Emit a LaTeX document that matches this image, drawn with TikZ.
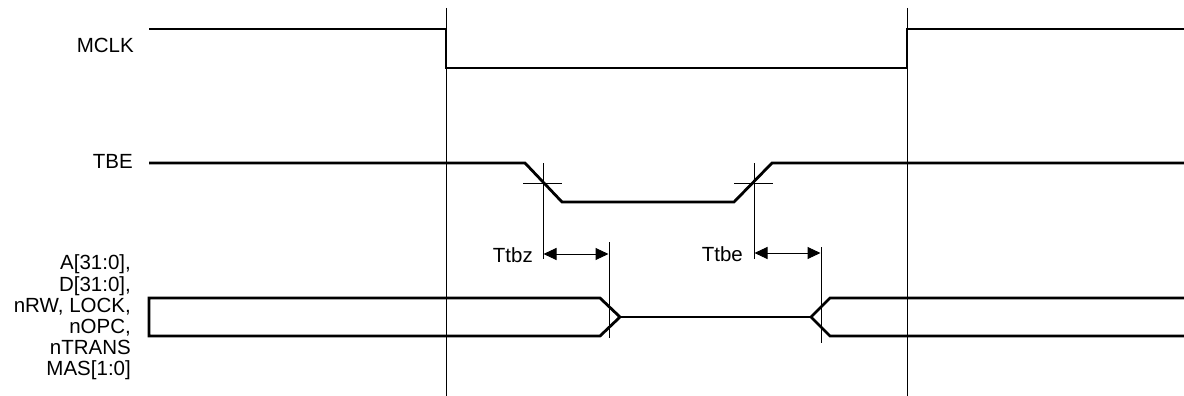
\documentclass[tikz,border=0pt]{standalone}
\usepackage{fontspec}
\setmainfont{Liberation Sans}
\usetikzlibrary{arrows.meta}
\begin{document}
\begin{tikzpicture}[x=1pt,y=-1pt,
  sig/.style={line width=2.8pt,line join=miter,line cap=butt},
  thin/.style={line width=1pt},
  lbl/.style={font=\fontsize{20.5}{21.2}\selectfont,inner sep=0pt},
  dim/.style={line width=1pt,{Triangle[length=13pt,width=12pt]}-{Triangle[length=13pt,width=12pt]},shorten <=0.5pt,shorten >=0.5pt}]
\useasboundingbox (0,0) rectangle (1184,396);
% reference verticals
\draw[thin] (446,8) -- (446,396);
\draw[thin] (907,8) -- (907,396);
% labels
\node[lbl,anchor=east] (mclk) at (134,45) {MCLK};
\node[lbl,anchor=east] (tbe) at (133,161) {TBE};
\node[lbl,anchor=east,align=right] (bus) at (131,317.5)
  {A[31:0],\\D[31:0],\\nRW, LOCK,\\nOPC,\\nTRANS\\MAS[1:0]};
% MCLK
\draw[sig] (149,29) -- (446,29) -- (446,68) -- (907,68) -- (907,29) -- (1184,29);
% TBE
\draw[sig] (149,163) -- (525,163) -- (562,202) -- (734,202) -- (772,163) -- (1184,163);
% crosshairs
\draw[thin] (523,183) -- (562,183);
\draw[thin] (734,183) -- (773,183);
% dimension lines
\coordinate (z1) at (543,254);
\coordinate (z2) at (609,254);
\coordinate (e1) at (754,253);
\coordinate (e2) at (821,253);
\draw[thin] (543,163) -- (543,259);
\draw[thin] (609,242) -- (609,338);
\draw[thin] (754,163) -- (754,259);
\draw[thin] (821,247) -- (821,343);
\draw[dim] (z1) -- (z2);
\draw[dim] (e1) -- (e2);
\node[lbl,anchor=east] (ttbz) at (533,255) {Ttbz};
\node[lbl,anchor=east] (ttbe) at (743,254) {Ttbe};
% bus
\draw[sig] (1184,298) -- (830,298) -- (811,317) -- (830,336) -- (1184,336);
\draw[sig] (811,317) -- (620,317);
\draw[sig] (620,317) -- (600,298) -- (149,298) -- (149,336) -- (600,336) -- cycle;
\end{tikzpicture}
\end{document}
